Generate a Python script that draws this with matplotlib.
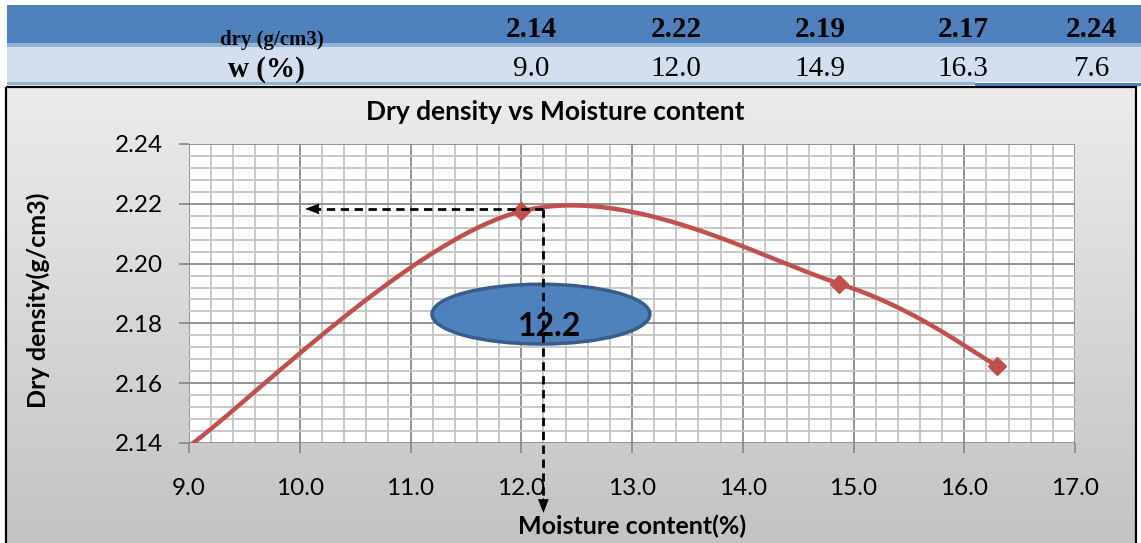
import numpy as np
import matplotlib
matplotlib.use("Agg")
import matplotlib.pyplot as plt
from matplotlib.patches import Rectangle, Ellipse

# ---------------- data ----------------
table_dry = [2.14, 2.22, 2.19, 2.17, 2.24]
table_w = [9.0, 12.0, 14.9, 16.3, 7.6]
moisture = [9.0, 12.0, 14.87, 16.3]
dry_density = [2.139, 2.2175, 2.1933, 2.1658]
omc_value = 12.2
max_dry = 2.2183
xticks = [9.0, 10.0, 11.0, 12.0, 13.0, 14.0, 15.0, 16.0, 17.0]
yticks = [2.14, 2.16, 2.18, 2.20, 2.22, 2.24]

W, H = 1141, 543
fig = plt.figure(figsize=(W / 100, H / 100), dpi=100)
plt.rcParams['font.family'] = ['Lato', 'DejaVu Sans']

# overlay in pixel coordinates
ov = fig.add_axes([0, 0, 1, 1], zorder=0)
ov.set_xlim(0, W)
ov.set_ylim(H, 0)
ov.axis('off')

# chart background gradient
grad = np.linspace(0, 1, 256).reshape(-1, 1)
c_top = np.array([0.925, 0.925, 0.925])
c_bot = np.array([0.765, 0.765, 0.765])
img = c_top + (c_bot - c_top) * grad[:, :, None]
img = np.repeat(img, 2, axis=1)
ov.imshow(img, extent=(6, 1136, 543, 87), aspect='auto', zorder=0)
ov.add_patch(Rectangle((6, 87), 1130, 460, fill=False, edgecolor='black', lw=1.6, zorder=1))

# table
ov.add_patch(Rectangle((7, 5), W - 7, 38, facecolor='#4F81BD', edgecolor='none', zorder=1))
ov.add_patch(Rectangle((7, 43), W - 7, 4, facecolor='#95B3D7', edgecolor='none', zorder=1))
ov.add_patch(Rectangle((7, 47), W - 7, 35, facecolor='#D3DFEE', edgecolor='none', zorder=1))
ov.add_patch(Rectangle((7, 82), 968, 3, facecolor='#95B3D7', edgecolor='none', zorder=1))
ov.add_patch(Rectangle((975, 83), W - 975, 3, facecolor='#4F81BD', edgecolor='none', zorder=1))

serif = ['Liberation Serif', 'DejaVu Serif']
hdr_rect = Rectangle((7, 5), W - 7, 38, transform=ov.transData)
t = ov.text(272, 45, 'dry (g/cm3)', family=serif, fontweight='bold', fontsize=15,
            ha='center', va='baseline', zorder=3)
t.set_clip_path(hdr_rect)
ov.text(266, 77, 'w (%)', family=serif, fontweight='bold', fontsize=21,
        ha='center', va='baseline', zorder=3)
col_x = [531, 676, 820, 963, 1091]
for cx, d, wv in zip(col_x, table_dry, table_w):
    ov.text(cx, 37, f'{d:.2f}', family=serif, fontweight='bold', fontsize=21,
            ha='center', va='baseline', zorder=3)
    ov.text(cx, 76, f'{wv:.1f}', family=serif, fontsize=21,
            ha='center', va='baseline', zorder=3)

# titles / labels in pixel coords
ov.text(555, 112, 'Dry density vs Moisture content', fontweight='bold', fontsize=19,
        ha='center', va='center', zorder=3)
ov.text(632, 526, 'Moisture content(%)', fontweight='bold', fontsize=18,
        ha='center', va='center', zorder=3)
ov.text(38, 300, 'Dry density(g/cm3)', fontweight='bold', fontsize=18, rotation=90,
        ha='center', va='center', zorder=3)

# ---------------- main plot ----------------
ax = fig.add_axes([189 / W, 1 - 443 / H, (1075 - 189) / W, (443 - 144) / H], zorder=2)
ax.set_facecolor('white')
ax.set_xlim(xticks[0], xticks[-1])
ax.set_ylim(yticks[0], yticks[-1])
ax.set_xticks(xticks)
ax.set_yticks(yticks)
ax.set_xticks(np.arange(xticks[0], xticks[-1] + 1e-9, 0.2), minor=True)
ax.set_yticks(np.arange(yticks[0], yticks[-1] + 1e-9, 0.004), minor=True)
ax.set_xticklabels([f'{v:.1f}' for v in xticks])
ax.set_yticklabels([f'{v:.2f}' for v in yticks])
ax.grid(which='minor', color='#c4c4c4', lw=1.3, zorder=0)
ax.grid(which='major', color='#8a8a8a', lw=1.3, zorder=0)
ax.set_axisbelow(True)
ax.tick_params(which='major', direction='out', length=7, width=1.3, color='#8a8a8a',
               labelsize=17.5)
ax.tick_params(axis='x', which='major', pad=18)
ax.tick_params(axis='y', which='major', pad=12)
ax.tick_params(which='minor', length=0)
for s in ax.spines.values():
    s.set_visible(False)

# Excel-like smoothed line (cubic Bezier, tension 1/6)
px = np.array(moisture)
py = np.array(dry_density)
n = len(px)
cx_all, cy_all = [], []
tt = np.linspace(0, 1, 60)
for i in range(n - 1):
    p0 = (px[max(i - 1, 0)], py[max(i - 1, 0)])
    p1 = (px[i], py[i])
    p2 = (px[i + 1], py[i + 1])
    p3 = (px[min(i + 2, n - 1)], py[min(i + 2, n - 1)])
    c1 = (p1[0] + (p2[0] - p0[0]) / 6, p1[1] + (p2[1] - p0[1]) / 6)
    c2 = (p2[0] - (p3[0] - p1[0]) / 6, p2[1] - (p3[1] - p1[1]) / 6)
    bx = (1 - tt) ** 3 * p1[0] + 3 * (1 - tt) ** 2 * tt * c1[0] + 3 * (1 - tt) * tt ** 2 * c2[0] + tt ** 3 * p2[0]
    by = (1 - tt) ** 3 * p1[1] + 3 * (1 - tt) ** 2 * tt * c1[1] + 3 * (1 - tt) * tt ** 2 * c2[1] + tt ** 3 * p2[1]
    cx_all.extend(bx)
    cy_all.extend(by)
ax.plot(cx_all, cy_all, color='#C0504D', lw=3.2, zorder=3, solid_capstyle='round')
ax.plot(px[1:], py[1:], ls='none', marker='D', ms=9, color='#C0504D', zorder=4)

# dashed guide lines with arrows
arrow_left = 10.05
arrow_bottom = 2.1166
ax.plot([omc_value, arrow_left + 0.1], [max_dry, max_dry], ls=(0, (3, 2)), color='black',
        lw=2, zorder=5, clip_on=False)
ax.plot([omc_value, omc_value], [max_dry, arrow_bottom + 0.004], ls=(0, (3, 2)), color='black',
        lw=2, zorder=5, clip_on=False)
ax.annotate('', xy=(arrow_left, max_dry), xytext=(arrow_left + 0.14, max_dry),
            arrowprops=dict(arrowstyle='-|>,head_length=0.9,head_width=0.35', color='black',
                            lw=0.5, shrinkA=0, shrinkB=0), zorder=6, annotation_clip=False)
ax.annotate('', xy=(omc_value, arrow_bottom), xytext=(omc_value, arrow_bottom + 0.005),
            arrowprops=dict(arrowstyle='-|>,head_length=0.9,head_width=0.35', color='black',
                            lw=0.5, shrinkA=0, shrinkB=0), zorder=6, annotation_clip=False)

# ellipse label
ax.add_patch(Ellipse((12.178, 2.1831), 1.968, 0.0200, facecolor='#4F81BD',
                     edgecolor='#385D8A', lw=2.5, zorder=4))
ax.text(12.26, 2.1788, f'{omc_value:.1f}', fontweight='bold', fontsize=23,
        ha='center', va='center', zorder=7)

fig.savefig('out.png', dpi=100)
